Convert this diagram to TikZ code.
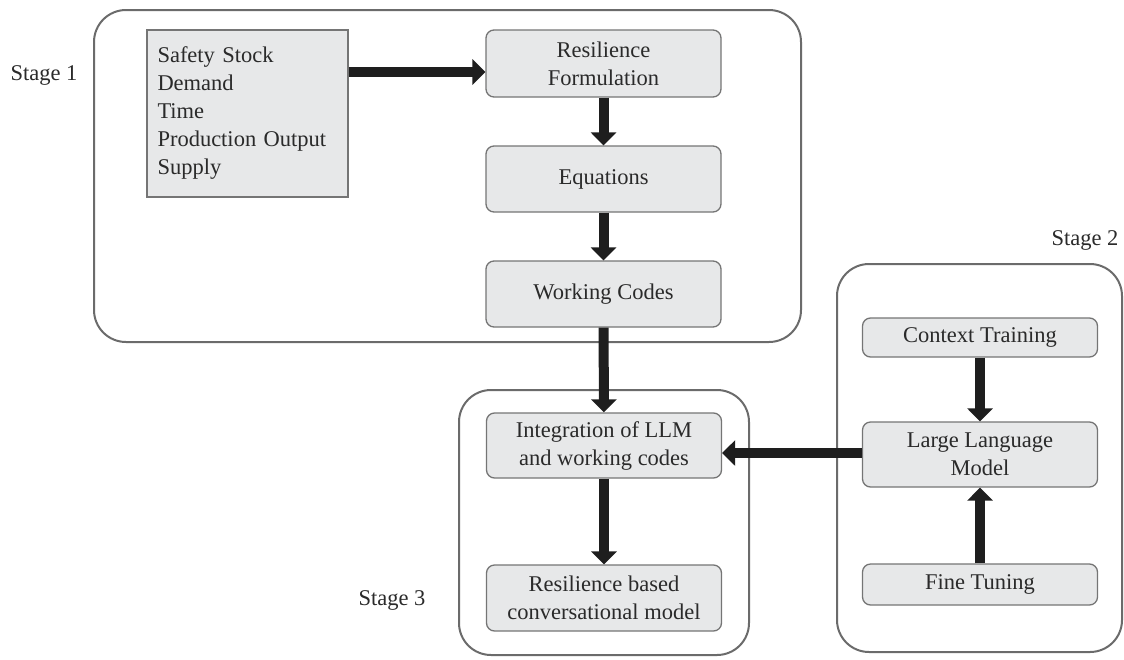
\documentclass[tikz,border=0pt]{standalone}
\usepackage{fontspec}
\setmainfont{Liberation Serif}
\usetikzlibrary{arrows.meta}
\definecolor{boxfill}{HTML}{E7E8E9}
\definecolor{boxline}{HTML}{757575}
\definecolor{stageline}{HTML}{6B6B6B}
\definecolor{arrowcol}{HTML}{1E1E1E}
\definecolor{textcol}{HTML}{2A2A2A}
\begin{document}
\begin{tikzpicture}[x=1pt,y=-1pt,
  every node/.style={text=textcol,font=\fontsize{22.5}{28}\selectfont},
  stagebox/.style={draw=stageline,line width=2pt,rounded corners=32pt,inner sep=0pt},
  box/.style={draw=boxline,fill=boxfill,line width=1.3pt,rounded corners=8pt,align=center,inner sep=0pt,minimum width=235pt},
  bigarrow/.style={draw=arrowcol,line width=10pt,-{Triangle[width=25pt,length=13pt]}}]
\useasboundingbox (0,0) rectangle (1124,659);

\node[stagebox,minimum width=707pt,minimum height=332pt] (stage1) at (447.5,176) {};
\node[stagebox,minimum width=285pt,minimum height=388pt] (stage2) at (979.5,458) {};
\node[stagebox,minimum width=290pt,minimum height=265pt] (stage3) at (604,522.5) {};

\node (s1lab) at (44,75) {Stage 1};
\node (s2lab) at (1085,240) {Stage 2};
\node (s3lab) at (392,600) {Stage 3};

\node[draw=boxline,fill=boxfill,line width=1.3pt,minimum width=201pt,minimum height=167pt,text width=180pt,inner xsep=10.5pt,align=left] (inputs) at (247.5,113.5) {Safety Stock\\Demand\\Time\\Production Output\\Supply};
\node[box,minimum height=67pt] (resform) at (603.5,63.5) {Resilience\\Formulation};
\node[box,minimum height=66pt] (equ) at (603.5,179) {Equations};
\node[box,minimum height=66pt] (codes) at (603.5,294) {Working Codes};
\node[box,minimum height=65pt] (integ) at (604,445.5) {Integration of LLM\\and working codes};
\node[box,minimum height=66pt] (convmodel) at (604,598) {Resilience based\\conversational model};
\node[box,minimum height=39pt] (context) at (980,337.5) {Context Training};
\node[box,minimum height=65pt] (llm) at (980,454.5) {Large Language\\Model};
\node[box,minimum height=41pt] (finetune) at (980,584.5) {Fine Tuning};

\draw[bigarrow] (inputs.east |- 0,72) -- (resform.west |- 0,72);
\draw[bigarrow] (resform) -- (equ);
\draw[bigarrow] (equ) -- (codes);
\draw[bigarrow] (codes) -- (integ);
\draw[bigarrow] (integ) -- (convmodel);
\draw[bigarrow] (llm.west |- 0,453) -- (integ.east |- 0,453);
\draw[bigarrow] (context) -- (llm);
\draw[bigarrow] (finetune) -- (llm);

\end{tikzpicture}
\end{document}
